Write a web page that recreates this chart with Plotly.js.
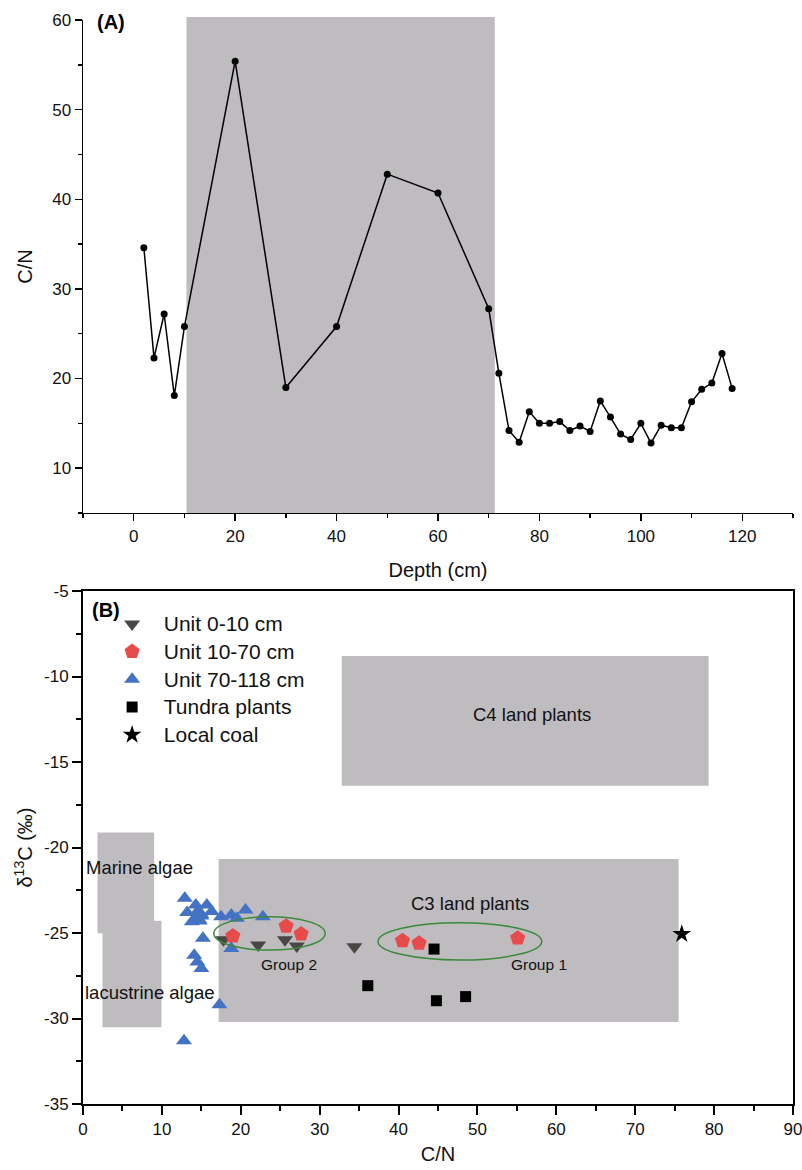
<!DOCTYPE html>
<html>
<head>
<meta charset="utf-8">
<script src="https://cdn.plot.ly/plotly-3.0.1.min.js"></script>
<style>
html,body{margin:0;padding:0;background:#fff;}
#chart{width:802px;height:1170px;}
</style>
</head>
<body>
<div id="chart"></div>
<script>
// ---------- Panel A: C/N vs depth ----------
var depthA = [2,4,6,8,10,20,30,40,50,60,70,72,74,76,78,80,82,84,86,88,90,92,94,96,98,100,102,104,106,108,110,112,114,116,118];
var cnA = [34.6,22.3,27.2,18.1,25.8,55.4,19.0,25.8,42.8,40.7,27.8,20.6,14.2,12.9,16.3,15.0,15.0,15.2,14.2,14.7,14.1,17.5,15.7,13.8,13.2,15.0,12.8,14.8,14.5,14.5,17.4,18.8,19.5,22.8,18.9];
var shadedDepth = [10.4, 71.2];

// ---------- Panel B: d13C vs C/N ----------
var cnUnit0_10 = [34.4, 22.2, 27.1, 17.8, 25.6];
var d13Unit0_10 = [-25.8, -25.7, -25.76, -25.4, -25.4];

var cnUnit10_70 = [19.0, 25.75, 27.65, 40.5, 42.6, 55.1];
var d13Unit10_70 = [-25.18, -24.6, -25.06, -25.45, -25.6, -25.3];

var cnUnit70_118 = [20.6, 14.3, 12.9, 16.3, 15.0, 15.0, 15.2, 14.3, 14.7, 14.1, 17.5, 15.7, 13.8, 13.2, 15.0, 12.8, 14.8, 14.5, 14.5, 17.3, 18.8, 19.5, 22.8, 18.8];
var d13Unit70_118 = [-23.65, -23.36, -22.97, -23.75, -27.07, -24.0, -25.3, -24.1, -24.2, -26.3, -24.05, -23.36, -24.34, -23.8, -23.9, -31.3, -24.3, -26.7, -23.75, -29.2, -23.95, -24.14, -24.05, -25.9];

var cnTundra = [36.1, 44.5, 44.8, 48.5];
var d13Tundra = [-28.08, -25.94, -28.96, -28.72];

var cnCoal = [75.9];
var d13Coal = [-25.06];

var seriesNames = ["Unit 0-10 cm", "Unit 10-70 cm", "Unit 70-118 cm", "Tundra plants", "Local coal"];

// tick labels of panel B y axis (hyphen minus as in the original)
var yTickValsB = [-35, -30, -25, -20, -15, -10, -5];
var yTickTextB = ["-35", "-30", "-25", "-20", "-15", "-10", "-5"];

// source fields
var fieldNames = ["C4 land plants", "C3 land plants", "Marine algae", "lacustrine algae"];
var fieldX0 = [32.8, 17.2, 1.84, 2.47];
var fieldX1 = [79.3, 75.5, 9.02, 9.94];
var fieldY0 = [-16.39, -30.2, -25.02, -30.51];
var fieldY1 = [-8.8, -20.67, -19.13, -24.28];
var fieldLabelX = [56.9, 49.1, 7.1, 8.5];
var fieldLabelY = [-12.25, -23.26, -21.18, -28.5];

var groupNames = ["Group 1", "Group 2"];
var groupX0 = [37.4, 16.58];
var groupX1 = [58.15, 30.7];
var groupY0 = [-26.58, -26.0];
var groupY1 = [-24.4, -24.05];
var groupLabelX = [57.8, 26.05];
var groupLabelY = [-26.87, -26.87];

var FONT = "Liberation Sans, Arial, Helvetica, sans-serif";
var GRAY = "#bebcbf";

function legendLabel(s) {
  return '<span style="font-size:21px">\u00a0\u00a0' + s + '</span>';
}

var traces = [
  {x: depthA, y: cnA, xaxis: "x", yaxis: "y", mode: "lines+markers", showlegend: false,
   line: {color: "#000", width: 1.5}, marker: {color: "#000", size: 7}},
  {x: cnUnit0_10, y: d13Unit0_10, xaxis: "x2", yaxis: "y2", mode: "markers", name: legendLabel(seriesNames[0]),
   marker: {symbol: "triangle-down", size: 14, color: "#4a4646"}},
  {x: cnUnit10_70, y: d13Unit10_70, xaxis: "x2", yaxis: "y2", mode: "markers", name: legendLabel(seriesNames[1]),
   marker: {symbol: "pentagon", size: 16, color: "#e84b4b"}},
  {x: cnUnit70_118, y: d13Unit70_118, xaxis: "x2", yaxis: "y2", mode: "markers", name: legendLabel(seriesNames[2]),
   marker: {symbol: "triangle-up", size: 14, color: "#4472c4"}},
  {x: cnTundra, y: d13Tundra, xaxis: "x2", yaxis: "y2", mode: "markers", name: legendLabel(seriesNames[3]),
   marker: {symbol: "square", size: 11, color: "#000"}},
  {x: cnCoal, y: d13Coal, xaxis: "x2", yaxis: "y2", mode: "markers", name: legendLabel(seriesNames[4]),
   marker: {symbol: "star", size: 14, color: "#000"}}
];

var shapes = [
  {type: "rect", xref: "x", yref: "paper", x0: shadedDepth[0], x1: shadedDepth[1],
   y0: 0.5437, y1: 1.0, fillcolor: GRAY, line: {width: 0}, layer: "below"}
];
var annotations = [
  {text: "<b>(A)</b>", xref: "paper", yref: "paper", x: 0.0169, y: 0.9954, xanchor: "left", yanchor: "middle",
   showarrow: false, font: {size: 20, family: FONT, color: "#000"}},
  {text: "<b>(B)</b>", xref: "paper", yref: "paper", x: 0.0099, y: 0.4545, xanchor: "left", yanchor: "middle",
   showarrow: false, font: {size: 20, family: FONT, color: "#000"}}
];
for (var i = 0; i < fieldNames.length; i++) {
  shapes.push({type: "rect", xref: "x2", yref: "y2", x0: fieldX0[i], x1: fieldX1[i], y0: fieldY0[i], y1: fieldY1[i],
    fillcolor: GRAY, line: {width: 0}, layer: "below"});
}
for (var i = 0; i < fieldNames.length; i++) {
  annotations.push({text: fieldNames[i], xref: "x2", yref: "y2", x: fieldLabelX[i], y: fieldLabelY[i],
    showarrow: false, font: {size: 18.5, family: FONT, color: "#111"}});
}
for (var i = 0; i < groupNames.length; i++) {
  shapes.push({type: "circle", xref: "x2", yref: "y2", x0: groupX0[i], x1: groupX1[i], y0: groupY0[i], y1: groupY1[i],
    line: {color: "#3a8a3a", width: 1.5}, fillcolor: "rgba(0,0,0,0)", layer: "above"});
  annotations.push({text: groupNames[i], xref: "x2", yref: "y2", x: groupLabelX[i], y: groupLabelY[i],
    showarrow: false, font: {size: 15.5, family: FONT, color: "#111"}});
}

var axisCommon = {showgrid: false, zeroline: false, showline: true, linecolor: "#000",
  ticks: "outside", tickcolor: "#000", tickfont: {size: 17, family: FONT, color: "#111"}};

var layout = {
  width: 802, height: 1170,
  margin: {l: 83, r: 9, t: 17, b: 66},
  paper_bgcolor: "#fff", plot_bgcolor: "rgba(0,0,0,0)",
  font: {family: FONT, color: "#000"},
  showlegend: true,
  legend: {x: 0.041, y: 0.459, xanchor: "left", yanchor: "top", bgcolor: "rgba(0,0,0,0)",
           font: {size: 19, family: FONT, color: "#111"}, tracegroupgap: 0, itemwidth: 30},
  xaxis: Object.assign({}, axisCommon, {domain: [0, 1], anchor: "y", range: [-10, 130], tick0: 0, dtick: 20,
    ticklen: 7, tickwidth: 1.5, linewidth: 1.5, ticklabelstandoff: 0,
    minor: {dtick: 10, tick0: 0, ticklen: 4, tickwidth: 1.5, ticks: "outside", tickcolor: "#000"},
    title: {text: "Depth (cm)", font: {size: 20, family: FONT, color: "#111"}, standoff: 18}}),
  yaxis: Object.assign({}, axisCommon, {domain: [0.5437, 0.99724], anchor: "x", range: [5, 60], tick0: 0, dtick: 10,
    ticklen: 7, tickwidth: 1.5, linewidth: 1.5,
    minor: {dtick: 5, tick0: 0, ticklen: 4, tickwidth: 1.5, ticks: "outside", tickcolor: "#000"},
    title: {text: "C/N", font: {size: 20, family: FONT, color: "#111"}, standoff: 14}}),
  xaxis2: Object.assign({}, axisCommon, {domain: [0, 1], anchor: "y2", range: [0, 90], tick0: 0, dtick: 10,
    ticklen: 9, tickwidth: 2, linewidth: 2, mirror: true, ticklabeloverflow: "allow",
    minor: {dtick: 5, tick0: 0, ticklen: 5, tickwidth: 2, ticks: "outside", tickcolor: "#000"},
    title: {text: "C/N", font: {size: 20, family: FONT, color: "#111"}, standoff: 9}}),
  yaxis2: Object.assign({}, axisCommon, {domain: [0, 0.47194], anchor: "x2", range: [-35, -5],
    tickmode: "array", tickvals: yTickValsB, ticktext: yTickTextB,
    ticklen: 9, tickwidth: 2, linewidth: 2, mirror: true,
    minor: {dtick: 2.5, tick0: 0, ticklen: 5, tickwidth: 2, ticks: "outside", tickcolor: "#000"},
    title: {text: "δ<sup>13</sup>C (‰)", font: {size: 20, family: FONT, color: "#111"}, standoff: 6}}),
  shapes: shapes,
  annotations: annotations
};

Plotly.newPlot("chart", traces, layout, {displayModeBar: false, staticPlot: true});
</script>
</body>
</html>
